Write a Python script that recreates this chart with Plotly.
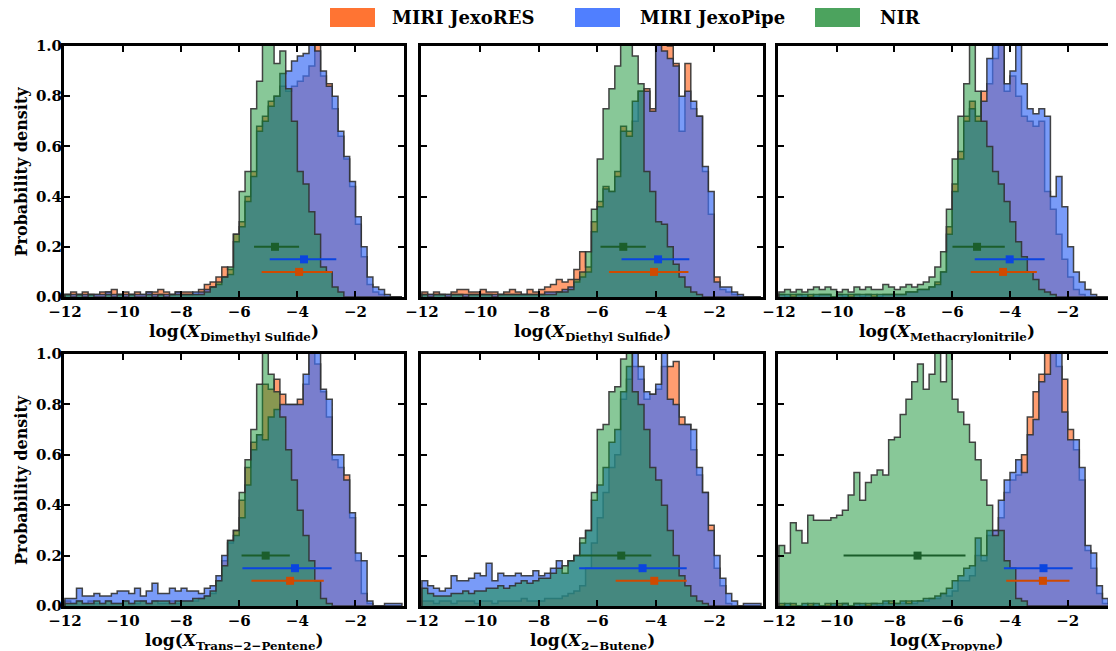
import numpy as np
import plotly.graph_objects as go

# ---------------- data ----------------
BIN_START = -12.0
BIN_WIDTH = 0.2
N_BINS = 58

SERIES = ["MIRI JexoRES", "MIRI JexoPipe", "NIR"]
SPECIES = ["Dimethyl Sulfide", "Diethyl Sulfide", "Methacrylonitrile",
           "Trans\u22122\u2212Pentene", "2\u2212Butene", "Propyne"]
X_TICKS = [-12, -10, -8, -6, -4, -2]
X_TICK_TEXT = ["\u221212", "\u221210", "\u22128", "\u22126", "\u22124", "\u22122"]
Y_TICKS = [0, 0.2, 0.4, 0.6, 0.8, 1.0]
Y_TICK_TEXT = ["0.0", "0.2", "0.4", "0.6", "0.8", "1.0"]

# Dimethyl Sulfide
RES_DMS = [0.01,0.02,0.01,0.02,0.01,0.01,0.02,0.02,0.03,0.01,
           0.02,0.01,0.02,0.01,0.02,0.02,0.03,0.02,0.01,0.02,
           0.02,0.02,0.01,0.03,0.05,0.06,0.08,0.12,0.11,0.25,
           0.30,0.40,0.50,0.68,0.72,0.78,0.80,0.84,0.82,0.84,
           0.86,0.88,0.92,1.05,0.88,0.85,0.75,0.64,0.55,0.44,
           0.29,0.16,0.05,0.02,0.01,0.0,0.0,0.0]
PIPE_DMS = [0.01,0.01,0.01,0.01,0.01,0.01,0.01,0.02,0.01,0.01,
            0.01,0.01,0.01,0.01,0.02,0.01,0.01,0.01,0.01,0.02,
            0.01,0.01,0.02,0.02,0.03,0.04,0.05,0.08,0.09,0.22,
            0.28,0.38,0.48,0.66,0.70,0.76,0.80,0.89,0.90,0.94,
            0.96,0.97,1.05,0.98,0.90,0.84,0.80,0.66,0.56,0.46,
            0.32,0.20,0.08,0.04,0.03,0.01,0.0,0.0]
NIR_DMS = [0.01,0.0,0.01,0.0,0.01,0.0,0.0,0.01,0.0,0.01,
           0.0,0.01,0.0,0.0,0.01,0.0,0.01,0.0,0.01,0.01,
           0.01,0.01,0.01,0.01,0.02,0.04,0.06,0.08,0.12,0.25,
           0.42,0.50,0.75,0.86,1.05,1.02,0.93,0.98,0.83,0.70,
           0.50,0.45,0.34,0.25,0.12,0.10,0.04,0.02,0.0,0.0,
           0.0,0.0,0.0,0.0,0.0,0.0,0.0,0.0]

# Diethyl Sulfide
RES_DES = [0.02,0.01,0.02,0.01,0.01,0.02,0.03,0.03,0.02,0.02,
           0.03,0.02,0.02,0.01,0.02,0.03,0.02,0.01,0.03,0.02,
           0.03,0.04,0.05,0.07,0.06,0.07,0.11,0.18,0.12,0.30,
           0.38,0.44,0.42,0.50,0.68,0.66,0.70,0.82,0.83,0.75,
           1.05,1.05,1.00,0.93,0.66,0.93,0.75,0.72,0.50,0.33,
           0.08,0.03,0.02,0.01,0.0,0.0,0.0,0.0]
PIPE_DES = [0.01,0.01,0.01,0.01,0.01,0.01,0.01,0.01,0.01,0.01,
            0.01,0.01,0.01,0.01,0.01,0.01,0.01,0.01,0.01,0.01,
            0.01,0.02,0.02,0.02,0.03,0.04,0.06,0.08,0.10,0.26,
            0.36,0.43,0.42,0.48,0.66,0.64,0.78,0.82,0.82,0.74,
            1.05,0.98,0.95,0.92,0.80,0.82,0.78,0.72,0.52,0.42,
            0.06,0.04,0.04,0.02,0.01,0.0,0.0,0.0]
NIR_DES = [0.01,0.0,0.01,0.01,0.0,0.01,0.01,0.0,0.01,0.01,
           0.01,0.01,0.0,0.01,0.01,0.01,0.01,0.01,0.01,0.01,
           0.01,0.01,0.01,0.02,0.02,0.03,0.07,0.10,0.18,0.35,
           0.55,0.75,0.83,0.92,1.05,1.03,0.96,0.85,0.50,0.42,
           0.30,0.29,0.20,0.13,0.08,0.04,0.02,0.01,0.0,0.0,
           0.0,0.0,0.0,0.0,0.0,0.0,0.0,0.0]

# Methacrylonitrile
RES_MAN = [0.01,0.0,0.01,0.01,0.0,0.01,0.0,0.01,0.01,0.0,
           0.01,0.0,0.01,0.01,0.0,0.01,0.01,0.0,0.01,0.01,
           0.01,0.01,0.02,0.02,0.03,0.03,0.04,0.06,0.10,0.28,
           0.45,0.58,0.72,0.78,0.72,0.82,0.85,0.95,1.05,0.82,
           0.88,0.80,0.72,0.70,0.68,0.70,0.42,0.35,0.25,0.15,
           0.08,0.03,0.01,0.0,0.0,0.0,0.0,0.0]
PIPE_MAN = [0.01,0.01,0.0,0.01,0.01,0.0,0.01,0.01,0.01,0.0,
            0.01,0.01,0.0,0.01,0.01,0.01,0.0,0.01,0.01,0.01,
            0.01,0.01,0.02,0.02,0.03,0.03,0.04,0.05,0.10,0.25,
            0.42,0.55,0.70,0.75,0.70,0.78,0.95,1.05,1.05,0.85,
            0.90,1.05,0.85,0.75,0.73,0.75,0.72,0.40,0.48,0.36,
            0.20,0.10,0.06,0.03,0.01,0.0,0.0,0.0]
NIR_MAN = [0.02,0.03,0.02,0.03,0.02,0.03,0.04,0.03,0.04,0.03,
           0.02,0.03,0.02,0.04,0.03,0.04,0.03,0.03,0.05,0.04,
           0.03,0.04,0.05,0.04,0.05,0.06,0.08,0.12,0.18,0.35,
           0.55,0.72,0.85,1.05,0.82,0.70,0.60,0.50,0.45,0.38,
           0.30,0.22,0.16,0.10,0.07,0.03,0.02,0.01,0.0,0.0,
           0.0,0.0,0.0,0.0,0.0,0.0,0.0,0.0]

# Trans-2-Pentene
RES_T2P = [0.02,0.01,0.02,0.01,0.02,0.01,0.01,0.02,0.01,0.01,
           0.02,0.01,0.01,0.02,0.01,0.02,0.01,0.01,0.02,0.01,
           0.02,0.02,0.02,0.03,0.04,0.05,0.10,0.18,0.25,0.30,
           0.42,0.55,0.65,0.68,0.88,0.86,0.90,0.84,0.80,0.80,
           0.82,0.88,1.05,0.96,0.85,0.75,0.58,0.55,0.52,0.35,
           0.18,0.05,0.01,0.0,0.0,0.0,0.0,0.0]
PIPE_T2P = [0.03,0.03,0.07,0.04,0.04,0.05,0.04,0.04,0.05,0.06,
            0.06,0.05,0.07,0.04,0.06,0.09,0.05,0.05,0.07,0.06,
            0.07,0.06,0.06,0.05,0.07,0.08,0.12,0.20,0.26,0.28,
            0.35,0.48,0.62,0.68,0.66,0.75,0.78,0.80,0.80,0.80,
            0.80,0.92,1.05,1.05,0.86,0.82,0.60,0.60,0.50,0.37,
            0.21,0.18,0.02,0.0,0.0,0.01,0.01,0.01]
NIR_T2P = [0.01,0.01,0.02,0.01,0.01,0.02,0.01,0.02,0.01,0.01,
           0.02,0.01,0.02,0.02,0.01,0.02,0.02,0.02,0.01,0.02,
           0.02,0.02,0.03,0.03,0.04,0.06,0.10,0.16,0.26,0.30,
           0.45,0.58,0.70,0.88,1.05,0.92,0.85,0.75,0.62,0.50,
           0.38,0.28,0.18,0.10,0.03,0.01,0.0,0.0,0.0,0.0,
           0.0,0.0,0.0,0.0,0.0,0.0,0.0,0.0]

# 2-Butene
RES_2B = [0.02,0.02,0.01,0.02,0.02,0.01,0.02,0.02,0.02,0.01,
          0.02,0.02,0.01,0.02,0.02,0.02,0.02,0.03,0.02,0.02,
          0.02,0.03,0.03,0.03,0.04,0.05,0.06,0.08,0.15,0.25,
          0.35,0.45,0.55,0.60,0.82,0.90,0.95,0.90,0.82,0.84,
          0.86,0.95,0.95,0.97,0.75,0.72,0.62,0.52,0.45,0.32,
          0.15,0.08,0.01,0.0,0.0,0.0,0.0,0.0]
PIPE_2B = [0.10,0.08,0.07,0.06,0.07,0.12,0.10,0.10,0.11,0.13,
           0.12,0.17,0.10,0.13,0.12,0.12,0.13,0.12,0.12,0.14,
           0.12,0.13,0.15,0.18,0.13,0.18,0.20,0.25,0.30,0.42,
           0.48,0.55,0.65,0.70,0.85,0.95,1.05,0.95,0.85,0.84,
           0.88,1.02,0.82,0.80,0.72,0.72,0.70,0.55,0.45,0.30,
           0.20,0.11,0.05,0.02,0.0,0.01,0.01,0.01]
NIR_2B = [0.07,0.05,0.04,0.04,0.04,0.05,0.05,0.06,0.05,0.06,
          0.06,0.07,0.07,0.08,0.07,0.08,0.09,0.10,0.09,0.10,
          0.11,0.11,0.13,0.15,0.16,0.18,0.20,0.27,0.30,0.45,
          0.70,0.72,0.85,0.87,0.98,1.05,0.85,0.80,0.70,0.55,
          0.50,0.40,0.30,0.20,0.12,0.08,0.04,0.02,0.01,0.0,
          0.0,0.0,0.0,0.0,0.0,0.0,0.0,0.0]

# Propyne
RES_PRO = [0.01,0.0,0.01,0.0,0.0,0.01,0.0,0.0,0.01,0.0,
           0.01,0.01,0.0,0.01,0.0,0.01,0.01,0.0,0.01,0.02,
           0.01,0.01,0.02,0.01,0.02,0.02,0.03,0.03,0.05,0.04,
           0.06,0.10,0.10,0.12,0.20,0.18,0.28,0.30,0.35,0.45,
           0.50,0.52,0.60,0.75,0.85,0.92,1.05,1.05,0.95,0.90,
           0.70,0.62,0.50,0.22,0.15,0.05,0.01,0.0]
PIPE_PRO = [0.0,0.01,0.0,0.0,0.01,0.0,0.01,0.0,0.0,0.01,
            0.0,0.01,0.0,0.01,0.01,0.0,0.01,0.01,0.02,0.01,
            0.01,0.02,0.01,0.02,0.02,0.03,0.03,0.04,0.05,0.07,
            0.10,0.12,0.15,0.16,0.27,0.20,0.30,0.30,0.42,0.50,
            0.53,0.58,0.53,0.68,0.74,0.89,0.92,1.05,1.05,0.77,
            0.66,0.66,0.55,0.24,0.21,0.08,0.03,0.01]
NIR_PRO = [0.24,0.21,0.33,0.30,0.25,0.36,0.34,0.34,0.34,0.35,
           0.36,0.38,0.44,0.53,0.42,0.49,0.52,0.54,0.52,0.66,
           0.67,0.76,0.82,0.89,0.96,0.86,0.92,1.05,0.89,1.05,
           0.82,0.77,0.72,0.65,0.58,0.50,0.40,0.28,0.30,0.18,
           0.15,0.03,0.02,0.0,0.0,0.0,0.0,0.0,0.0,0.0,
           0.0,0.0,0.0,0.0,0.0,0.0,0.0,0.0]

HISTS = [
    [RES_DMS, PIPE_DMS, NIR_DMS],
    [RES_DES, PIPE_DES, NIR_DES],
    [RES_MAN, PIPE_MAN, NIR_MAN],
    [RES_T2P, PIPE_T2P, NIR_T2P],
    [RES_2B, PIPE_2B, NIR_2B],
    [RES_PRO, PIPE_PRO, NIR_PRO],
]

# summary statistics: (median, lower, upper) per series [RES, Pipe, NIR]
SUMMARY = [
    [(-3.94, -5.23, -2.80), (-3.77, -4.95, -2.66), (-4.77, -5.49, -3.94)],
    [(-4.06, -5.60, -2.88), (-3.92, -5.17, -2.85), (-5.11, -5.89, -4.34)],
    [(-4.24, -5.36, -3.07), (-4.01, -5.22, -2.80), (-5.14, -5.99, -4.18)],
    [(-4.25, -5.58, -3.09), (-4.08, -5.89, -2.82), (-5.09, -5.92, -4.26)],
    [(-4.05, -5.37, -2.94), (-4.45, -6.62, -2.94), (-5.18, -6.60, -4.15)],
    [(-2.86, -4.13, -1.94), (-2.84, -4.21, -1.83), (-7.20, -9.76, -5.54)],
]
SUMMARY_LEVEL = [0.10, 0.15, 0.20]

# ---------------- style / layout ----------------
FILL = ["rgba(255,116,51,0.7)", "rgba(64,112,245,0.7)", "rgba(17,145,49,0.5)"]
LEGEND_COL = ["#FF7433", "#507FFF", "#4CA35E"]
ERR_COL = ["#D04A00", "#0A45E0", "#1B5E2B"]
EDGE = "rgba(50,50,50,0.9)"
FONT = "DejaVu Serif"

PAGE_PAD = 8                      # default body margin of the html page
W, H = 1116 - PAGE_PAD, 651 - PAGE_PAD
COLS_PX = [(64, 404), (421, 763), (778, 1118)]
ROWS_PX = [(46, 297), (354, 606)]


def px_x(v):
    return (v - PAGE_PAD) / W


def px_y(v):
    return 1 - (v - PAGE_PAD) / H


fig = go.Figure()
edges = BIN_START + BIN_WIDTH * np.arange(N_BINS + 1)

for p in range(6):
    r, c = divmod(p, 3)
    ax = "" if p == 0 else str(p + 1)
    xref, yref = "x" + ax, "y" + ax
    for s in range(3):
        vals = list(HISTS[p][s])
        xs = [edges[0]] + list(edges[:-1]) + [edges[-1], edges[-1]]
        ys = [0.0] + vals + [vals[-1], 0.0]
        fig.add_trace(go.Scatter(
            x=xs, y=ys, mode="lines", line=dict(shape="hv", color=EDGE, width=1.5),
            fill="tozeroy", fillcolor=FILL[s], xaxis=xref, yaxis=yref,
            showlegend=False, hoverinfo="skip"))
    for s in range(3):
        med, lo, hi = SUMMARY[p][s]
        fig.add_trace(go.Scatter(
            x=[med], y=[SUMMARY_LEVEL[s]], mode="markers",
            marker=dict(symbol="square", size=8, color=ERR_COL[s]),
            error_x=dict(type="data", symmetric=False, array=[hi - med],
                         arrayminus=[med - lo], color=ERR_COL[s], thickness=2, width=0),
            xaxis=xref, yaxis=yref, showlegend=False, hoverinfo="skip"))

    x0, x1 = COLS_PX[c]
    y0, y1 = ROWS_PX[r]
    axis_common = dict(showline=True, linewidth=3, linecolor="black", mirror="allticks",
                       ticks="inside", ticklen=6, tickwidth=2, tickcolor="black",
                       showgrid=False, zeroline=False, automargin=False,
                       tickfont=dict(family=FONT, size=15, color="black", weight="bold"))
    fig.layout["xaxis" + ax] = dict(
        domain=[px_x(x0), min(px_x(x1), 1.0)], anchor=yref, range=[-12.03, -0.33],
        tickmode="array", tickvals=X_TICKS, ticktext=X_TICK_TEXT,
        ticklabelstandoff=-1, **axis_common)
    fig.layout["yaxis" + ax] = dict(
        domain=[px_y(y1), px_y(y0)], anchor=xref, range=[0, 1.0],
        tickmode="array", tickvals=Y_TICKS, ticktext=Y_TICK_TEXT,
        ticklabelstandoff=-4, showticklabels=(c == 0), **axis_common)

    # x-axis title
    fig.add_annotation(xref="paper", yref="paper",
                       x=px_x((x0 + min(x1, 1116)) / 2), y=px_y(y1 + 35),
                       xanchor="center", yanchor="middle", showarrow=False,
                       text="log(<i>X</i><sub>" + SPECIES[p] + "</sub>)",
                       font=dict(family=FONT, size=17, color="black", weight="bold"))
    if c == 0:
        fig.add_annotation(xref="paper", yref="paper",
                           x=px_x(21), y=px_y((y0 + y1) / 2),
                           xanchor="center", yanchor="middle", showarrow=False,
                           textangle=-90, text="Probability density",
                           font=dict(family=FONT, size=16, color="black", weight="bold"))

# legend drawn as patches + labels
LEG_PATCH_X = [(330, 375), (575, 620), (815, 860)]
LEG_TEXT_X = [390, 638, 878]
for s in range(3):
    a, b = LEG_PATCH_X[s]
    fig.add_shape(type="rect", xref="paper", yref="paper",
                  x0=px_x(a), x1=px_x(b), y0=px_y(27), y1=px_y(8),
                  fillcolor=LEGEND_COL[s], line=dict(width=0))
    fig.add_annotation(xref="paper", yref="paper", x=px_x(LEG_TEXT_X[s]), y=px_y(17.5),
                       xanchor="left", yanchor="middle", showarrow=False,
                       text=SERIES[s],
                       font=dict(family=FONT, size=18, color="black", weight="bold"))

fig.update_layout(width=W, height=H, margin=dict(l=0, r=0, t=0, b=0, autoexpand=False),
                  plot_bgcolor="white", paper_bgcolor="white",
                  font=dict(family=FONT, color="black", weight="bold"),
                  showlegend=False)

fig.write_html("out.html")
